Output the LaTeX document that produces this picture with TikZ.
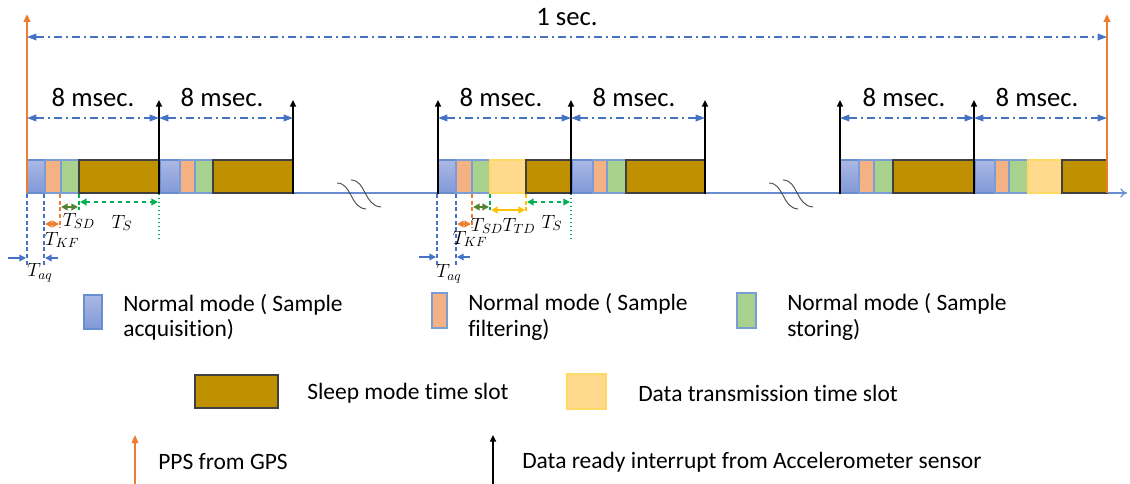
\documentclass[tikz,border=0pt]{standalone}
\usepackage[no-math]{fontspec}
\setmainfont[RawFeature={-liga,-clig,-calt,-dlig}]{Carlito}
\usetikzlibrary{arrows.meta}
\definecolor{cblue}{HTML}{4472C4}
\definecolor{corange}{HTML}{ED7D31}
\definecolor{cgreen}{HTML}{00B050}
\definecolor{cdgreen}{HTML}{548235}
\definecolor{cyellow}{HTML}{FFC000}
\definecolor{acqtop}{HTML}{AAB8E3}
\definecolor{acqbot}{HTML}{8199D8}
\definecolor{filtc}{HTML}{F4B183}
\definecolor{storc}{HTML}{A9D18E}
\definecolor{slpc}{HTML}{BF9000}
\definecolor{txc}{HTML}{FFD98C}
\newcommand\tslot[3]{\draw[#1] (#2,160) rectangle (#3,193);}
\begin{document}
\begin{tikzpicture}[x=0.75pt,y=-0.75pt,
  acq/.style={top color=acqtop,bottom color=acqbot,draw=cblue!80,line width=0.8pt},
  filt/.style={fill=filtc,draw=cblue!70,line width=0.8pt},
  stor/.style={fill=storc,draw=cblue!70,line width=0.8pt},
  slp/.style={fill=slpc,draw=black!75,line width=0.9pt},
  tx/.style={fill=txc,draw=cyellow!60,line width=0.8pt},
  base/.style={cblue!80,line width=0.9pt},
  pps/.style={corange,line width=1.6pt,-{Triangle[length=6pt,width=5pt]}},
  dri/.style={black,line width=1.6pt,-{Triangle[length=5pt,width=4.5pt]}},
  span/.style={cblue,line width=0.9pt,dash pattern=on 6pt off 3pt on 1.5pt off 3pt,{Triangle[length=7pt,width=5pt]}-{Triangle[length=7pt,width=5pt]}},
  vdash/.style={line width=1pt,dash pattern=on 3pt off 2pt},
  dimarr/.style={line width=1.4pt,{Triangle[length=5pt,width=5pt]}-{Triangle[length=5pt,width=5pt]}},
  onearr/.style={line width=1.1pt,-{Triangle[length=5pt,width=5pt]}},
  lbl/.style={font=\fontsize{20}{22}\selectfont},
  mth/.style={font=\fontsize{14.5}{16}\selectfont},
  leg/.style={font=\fontsize{17.6}{19}\selectfont,anchor=west,align=left,inner sep=0pt},
  brk/.style={black!70,line width=0.7pt}]
\useasboundingbox (0,0) rectangle (1130,484);

% baseline
\coordinate (b0) at (27,193);
\coordinate (b1) at (1127,193);
\draw[base,-{To[length=5pt,width=7pt]}] (b0) -- (b1);

% break symbols
\foreach \dx in {0,432}{
  \draw[brk] (337+\dx,183) .. controls (352+\dx,183) and (350+\dx,208) .. (366+\dx,209);
  \draw[brk] (351+\dx,180) .. controls (366+\dx,180) and (364+\dx,206) .. (381+\dx,207);
}

% group 1
\tslot{acq}{27}{45}
\tslot{filt}{45}{61}
\tslot{stor}{61}{79}
\tslot{slp}{79}{159}
\tslot{acq}{160}{180}
\tslot{filt}{180}{195}
\tslot{stor}{195}{213}
\tslot{slp}{213}{293}
% group 2
\tslot{acq}{438}{456}
\tslot{filt}{456}{472}
\tslot{stor}{472}{490}
\tslot{tx}{490}{526}
\tslot{slp}{526}{571}
\tslot{acq}{572}{593}
\tslot{filt}{593}{607}
\tslot{stor}{607}{626}
\tslot{slp}{626}{705}
% group 3
\tslot{acq}{840}{859}
\tslot{filt}{859}{874}
\tslot{stor}{874}{893}
\tslot{slp}{893}{974}
\tslot{acq}{975}{995}
\tslot{filt}{995}{1009}
\tslot{stor}{1009}{1028}
\tslot{tx}{1028}{1062}
\tslot{slp}{1062}{1107}

% PPS arrows
\coordinate (p0b) at (27,193); \coordinate (p0t) at (27,14);
\coordinate (p1b) at (1107,193); \coordinate (p1t) at (1107,14);
\draw[pps] (p0b) -- (p0t);
\draw[pps] (p1b) -- (p1t);

% 1 sec
\draw[span] (27,37) -- (1107,37);
\node[lbl] (onesec) at (567,17) {1 sec.};

% data ready arrows
\foreach \x in {159,293,438,571,705,840,974}{
  \draw[dri] (\x,194) -- (\x,100);
}

% 8 msec spans
\foreach \a/\b in {27/159,159/293,438/571,571/705,840/974,974/1107}{
  \draw[span] (\a,118) -- (\b,118);
}
\node[lbl] (m1) at (93,97) {8 msec.};
\node[lbl] (m2) at (222,97) {8 msec.};
\node[lbl] (m3) at (501,97) {8 msec.};
\node[lbl] (m4) at (634,97) {8 msec.};
\node[lbl] (m5) at (904,97) {8 msec.};
\node[lbl] (m6) at (1037,97) {8 msec.};

% annotations group 1
\draw[vdash,cblue] (27,194) -- (27,266);
\draw[vdash,cblue] (44,194) -- (44,266);
\draw[onearr,cblue] (8,258) -- (26,258);
\draw[onearr,cblue] (58,258) -- (45,258);
\node[mth] (taq1) at (40,273) {$T_{aq}$};
\draw[vdash,corange] (60,194) -- (60,228);
\draw[dimarr,corange] (45,224) -- (59,224);
\node[mth] (tkf1) at (62,240) {$T_{KF}$};
\draw[vdash,cgreen] (79,194) -- (79,210);
\draw[dimarr,cdgreen] (61,207) -- (78,207);
\node[mth] (tsd1) at (79,221) {$T_{SD}$};
\draw[cgreen,line width=1pt,dotted] (159,194) -- (159,239);
\draw[dimarr,cgreen,dashed] (80,202) -- (158,202);
\node[mth] (ts1) at (122,223) {$T_{S}$};

% annotations group 2
\draw[vdash,cblue] (437,194) -- (437,266);
\draw[vdash,cblue] (456,194) -- (456,266);
\draw[onearr,cblue] (419,257) -- (436,257);
\draw[onearr,cblue] (470,257) -- (457,257);
\node[mth] (taq2) at (449,274) {$T_{aq}$};
\draw[vdash,corange] (472,194) -- (472,228);
\draw[dimarr,corange] (457,224) -- (471,224);
\node[mth] (tkf2) at (470,239) {$T_{KF}$};
\draw[vdash,cgreen] (490,194) -- (490,210);
\draw[dimarr,cdgreen] (473,207) -- (489,207);
\node[mth] (tsd2) at (487,226) {$T_{SD}$};
\draw[vdash,cyellow] (526,194) -- (526,213);
\draw[dimarr,cyellow] (491,210) -- (525,210);
\node[mth] (ttd2) at (519,226) {$T_{TD}$};
\draw[cgreen,line width=1pt,dotted] (571,194) -- (571,239);
\draw[dimarr,cgreen,dashed] (527,202) -- (570,202);
\node[mth] (ts2) at (552,223) {$T_{S}$};

% legend
\draw[acq] (84,295) rectangle (102,329);
\node[leg] (l1) at (123,317) {Normal mode ( Sample\\acquisition)};
\draw[filt] (432,293) rectangle (447,328);
\node[leg] (l2) at (468,317) {Normal mode ( Sample\\filtering)};
\draw[stor] (737,293) rectangle (756,328);
\node[leg] (l3) at (787,317) {Normal mode ( Sample\\storing)};
\draw[slp] (195,375) rectangle (278,408);
\node[leg] (l4) at (307,393) {Sleep mode time slot};
\draw[tx] (567,374) rectangle (606,409);
\node[leg] (l5) at (638,393) {Data transmission time slot};
\coordinate (la0) at (135,484); \coordinate (la1) at (135,435);
\draw[pps,line width=1.2pt] (la0) -- (la1);
\node[leg] (l6) at (158,462) {PPS from GPS};
\coordinate (lb0) at (493,484); \coordinate (lb1) at (493,435);
\draw[dri,line width=1.2pt] (lb0) -- (lb1);
\node[leg] (l7) at (522,462) {Data ready interrupt from Accelerometer sensor};
\end{tikzpicture}
\end{document}
